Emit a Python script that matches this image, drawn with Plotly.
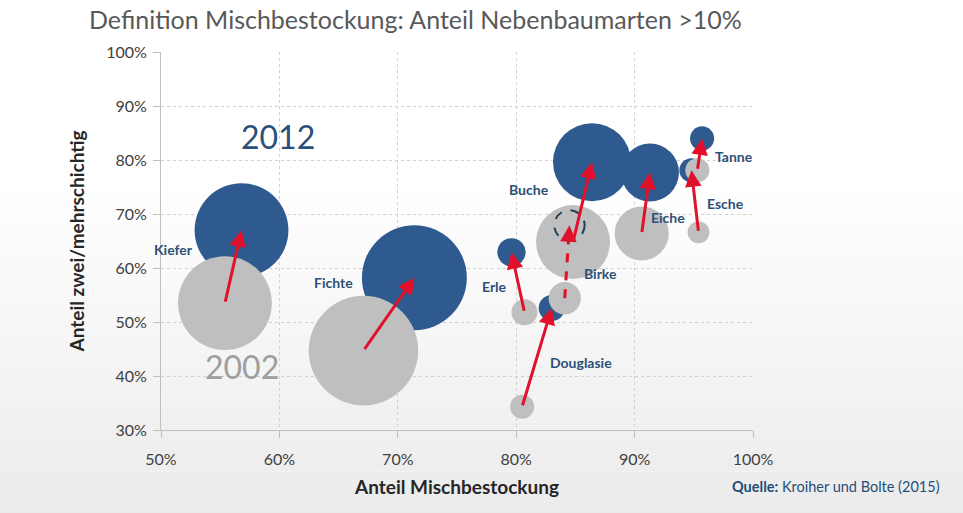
import numpy as np
import plotly.graph_objects as go

# ---------------- data ----------------
species = ["Kiefer", "Fichte", "Buche", "Eiche", "Tanne", "Esche", "Birke", "Douglasie", "Erle"]
# Anteil Mischbestockung (%)
misch_2002 = [55.4, 67.1, 84.8, 90.6, 95.3, 95.4, 84.1, 80.5, 80.7]
misch_2012 = [56.8, 71.4, 86.4, 91.3, 95.7, 94.8, 84.5, 83.0, 79.6]
# Anteil zwei-/mehrschichtig (%)
schicht_2002 = [53.5, 44.7, 64.8, 66.4, 78.1, 66.6, 54.4, 34.3, 51.8]
schicht_2012 = [67.0, 58.2, 79.6, 77.7, 84.0, 78.1, 67.9, 52.6, 62.9]
# relative bubble size (area)
flaeche_2002 = [22.0, 30.0, 13.7, 7.3, 1.45, 1.2, 2.6, 1.45, 1.7]
flaeche_2012 = [22.0, 27.5, 15.2, 8.4, 1.45, 1.45, 2.3, 1.7, 2.0]
dashed_2012 = ["Birke"]

x_ticks = [50, 60, 70, 80, 90, 100]
y_ticks = [30, 40, 50, 60, 70, 80, 90, 100]

# ---------------- styling ----------------
FONT = "Lato"
BLUE = "#2e5a8f"
GRAY = "#bfbfbf"
RED = "#e1102b"
LABEL = "#2d5079"
SIZEREF = 0.005  # radius px = sqrt(area / (2*sizeref))

label_offsets = {  # pixel offsets of the species names from the 2012 bubble
    "Kiefer": (-68, -19), "Fichte": (-81, -5), "Buche": (-63, -27),
    "Eiche": (18, -45), "Tanne": (32, -18), "Esche": (34, -33),
    "Birke": (31, -48), "Douglasie": (29, -55), "Erle": (-17, -34),
}

W, H = 963, 513
ML, MR, MT, MB = 161, 210, 52, 83
pw, ph = W - ML - MR, H - MT - MB


def px_x(ax):  # page x -> paper fraction
    return (ax - ML) / pw


def px_y(ay):  # page y -> paper fraction
    return (H - MB - ay) / ph


fig = go.Figure()

# 2012 bubbles (filled)
idx = [i for i, s in enumerate(species) if s not in dashed_2012]
fig.add_trace(go.Scatter(
    x=[misch_2012[i] for i in idx], y=[schicht_2012[i] for i in idx],
    mode="markers", name="2012", hoverinfo="skip",
    marker=dict(size=[flaeche_2012[i] for i in idx], sizemode="area", sizeref=SIZEREF,
                color=BLUE, opacity=1, line=dict(width=0)),
))
# 2002 bubbles
fig.add_trace(go.Scatter(
    x=misch_2002, y=schicht_2002, mode="markers", name="2002", hoverinfo="skip",
    marker=dict(size=flaeche_2002, sizemode="area", sizeref=SIZEREF,
                color=GRAY, opacity=1, line=dict(width=0)),
))

annotations = []
shapes = []

# background gradient (white -> light gray toward the bottom)
n_bands = 40
g_top = 180
for k in range(n_bands):
    a0 = g_top + (H - g_top) * k / n_bands
    a1 = g_top + (H - g_top) * (k + 1) / n_bands
    t = (k + 0.5) / n_bands
    c = int(round(255 - t * 20))
    shapes.append(dict(type="rect", xref="paper", yref="paper", layer="below",
                       x0=px_x(0), x1=px_x(W), y0=px_y(a1), y1=px_y(a0),
                       line=dict(width=0), fillcolor=f"rgb({c},{c},{c})"))

for i, s in enumerate(species):
    x0, y0, x1, y1 = misch_2002[i], schicht_2002[i], misch_2012[i], schicht_2012[i]
    if s in dashed_2012:
        r = float(np.sqrt(flaeche_2012[i] / (2 * SIZEREF)))
        shapes.append(dict(type="circle", xref="x", yref="y", xsizemode="pixel", ysizemode="pixel",
                           xanchor=x1, yanchor=y1, x0=-r, x1=r, y0=-r, y1=r, layer="above",
                           line=dict(color="#1f4058", width=2, dash="dash"),
                           fillcolor="rgba(0,0,0,0)"))
        f = 0.8
        xm, ym = x0 + f * (x1 - x0), y0 + f * (y1 - y0)
        fig.add_trace(go.Scatter(x=[x0, xm], y=[y0, ym], mode="lines", hoverinfo="skip",
                                 line=dict(color=RED, width=3, dash="dash"), showlegend=False))
        annotations.append(dict(x=x1, y=y1, ax=xm, ay=ym, xref="x", yref="y", axref="x", ayref="y",
                                text="", showarrow=True, arrowhead=2, arrowsize=1.1,
                                arrowwidth=3, arrowcolor=RED, standoff=0))
    else:
        annotations.append(dict(x=x1, y=y1, ax=x0, ay=y0, xref="x", yref="y", axref="x", ayref="y",
                                text="", showarrow=True, arrowhead=2, arrowsize=1.1,
                                arrowwidth=3, arrowcolor=RED, standoff=0))
    dx, dy = label_offsets[s]
    annotations.append(dict(x=x1, y=y1, xref="x", yref="y", xshift=dx, yshift=dy,
                            text=f"<b>{s}</b>", showarrow=False,
                            font=dict(family=FONT, size=14, color=LABEL)))

# year labels
annotations.append(dict(x=59.9, y=84.4, xref="x", yref="y", text="2012", showarrow=False,
                        font=dict(family=FONT, size=32, color="#2b5078")))
annotations.append(dict(x=56.8, y=41.8, xref="x", yref="y", text="2002", showarrow=False,
                        font=dict(family=FONT, size=32, color="#9e9e9e")))
# source
annotations.append(dict(x=px_x(942), y=px_y(487), xref="paper", yref="paper",
                        xanchor="right", yanchor="middle", showarrow=False,
                        text="<b>Quelle:</b> Kroiher und Bolte (2015)",
                        font=dict(family=FONT, size=14.5, color="#1f4e79")))
# title
annotations.append(dict(x=px_x(415), y=px_y(19), xref="paper", yref="paper",
                        xanchor="center", yanchor="middle", showarrow=False,
                        text="Definition Mischbestockung: Anteil Nebenbaumarten >10%",
                        font=dict(family=FONT, size=25, color="#595959")))

fig.update_layout(
    width=W, height=H,
    margin=dict(l=ML, r=MR, t=MT, b=MB, autoexpand=False),
    paper_bgcolor="white", plot_bgcolor="rgba(0,0,0,0)",
    showlegend=False,
    font=dict(family=FONT, color="#404040"),
    xaxis=dict(range=[50, 100], tickvals=x_ticks, ticktext=[f"{v}%" for v in x_ticks],
               showgrid=True, gridcolor="#d0d0d0", griddash="dot", gridwidth=1,
               showline=True, linecolor="#bfbfbf", linewidth=1, zeroline=False,
               ticks="outside", ticklen=7, tickcolor="#bfbfbf", ticklabelstandoff=8,
               tickfont=dict(family=FONT, size=16, color="#404040"),
               title=dict(text="<b>Anteil Mischbestockung</b>", standoff=13,
                          font=dict(family=FONT, size=19, color="#262626"))),
    yaxis=dict(range=[30, 100], tickvals=y_ticks, ticktext=[f"{v}%" for v in y_ticks],
               showgrid=True, gridcolor="#d0d0d0", griddash="dot", gridwidth=1,
               showline=True, linecolor="#bfbfbf", linewidth=1, zeroline=False,
               ticks="outside", ticklen=7, tickcolor="#bfbfbf", ticklabelstandoff=3,
               tickfont=dict(family=FONT, size=16, color="#404040"),
               title=dict(text="<b>Anteil zwei/mehrschichtig</b>", standoff=16,
                          font=dict(family=FONT, size=19, color="#262626"))),
    annotations=annotations, shapes=shapes,
)

fig.write_html("out.html", config={"displayModeBar": False, "staticPlot": True},
               post_script="document.body.style.margin='0';")
